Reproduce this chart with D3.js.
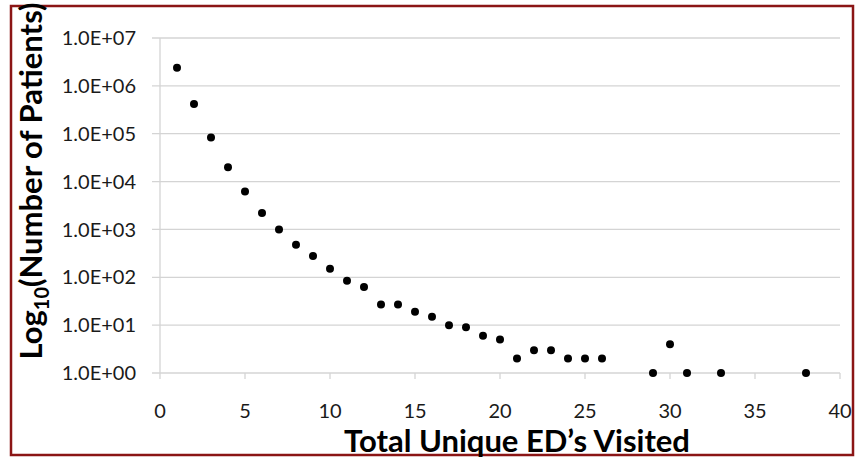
<!DOCTYPE html>
<html><head><meta charset="utf-8">
<script src="https://cdn.jsdelivr.net/npm/d3@7"></script>
<style>html,body{margin:0;padding:0;background:#fff;}</style>
</head><body>
<script>
const edsVisited = [1,2,3,4,5,6,7,8,9,10,11,12,13,14,15,16,17,18,19,20,21,22,23,24,25,26,29,30,31,33,38];
const patients = [2400000,420000,83000,20000,6200,2200,1000,480,280,150,85,63,27,27,19,15,10,9,6,5,2,3,3,2,2,2,1,4,1,1,1];
const yTicks = [1,10,100,1000,10000,100000,1000000,10000000];
const yTickLabels = ["1.0E+00","1.0E+01","1.0E+02","1.0E+03","1.0E+04","1.0E+05","1.0E+06","1.0E+07"];
const xTicks = [0,5,10,15,20,25,30,35,40];

const W=857,H=459;
const svg=d3.select("body").append("svg").attr("width",W).attr("height",H);
svg.append("rect").attr("x",0).attr("y",0).attr("width",W).attr("height",H).attr("fill","#fff");
svg.append("rect").attr("x",11).attr("y",6).attr("width",842).attr("height",449)
  .attr("fill","none").attr("stroke","#8b1515").attr("stroke-width",2.5);

const L=160,R=840,T=38,B=373;
const x=d3.scaleLinear().domain([0,40]).range([L,R]);
const y=d3.scaleLog().domain([1,1e7]).range([B,T]);
const font="Lato, 'Open Sans', sans-serif";

// gridlines
svg.append("g").selectAll("line").data(yTicks).join("line")
  .attr("x1",L-8).attr("x2",R).attr("y1",d=>y(d)).attr("y2",d=>y(d))
  .attr("stroke","#d4d4d4").attr("stroke-width",1.3);
// y axis line
svg.append("line").attr("x1",L).attr("x2",L).attr("y1",T).attr("y2",B).attr("stroke","#d4d4d4").attr("stroke-width",1.3);
// x ticks
svg.append("g").selectAll("line").data(xTicks).join("line")
  .attr("x1",d=>x(d)).attr("x2",d=>x(d)).attr("y1",B).attr("y2",B+6)
  .attr("stroke","#d4d4d4").attr("stroke-width",1.3);

// y tick labels
svg.append("g").selectAll("text").data(yTicks).join("text")
  .attr("x",136).attr("y",d=>y(d)).attr("dy","0.36em").attr("text-anchor","end")
  .attr("font-family",font).attr("font-size",20).attr("fill","#1a1a1a")
  .text((d,i)=>yTickLabels[i]);
// x tick labels
svg.append("g").selectAll("text").data(xTicks).join("text")
  .attr("x",d=>x(d)).attr("y",411).attr("dy","0.36em").attr("text-anchor","middle")
  .attr("font-family",font).attr("font-size",20).attr("fill","#1a1a1a")
  .text(d=>d);

// points
svg.append("g").selectAll("circle").data(edsVisited).join("circle")
  .attr("cx",d=>x(d)).attr("cy",(d,i)=>y(patients[i])).attr("r",4).attr("fill","#000");

// axis titles
svg.append("text").attr("x",517).attr("y",452).attr("text-anchor","middle")
  .attr("font-family",font).attr("font-weight","bold").attr("font-size",31).attr("fill","#000")
  .text("Total Unique ED’s Visited");
const yt=svg.append("text").attr("transform","translate(42,181) rotate(-90)").attr("text-anchor","middle")
  .attr("font-family",font).attr("font-weight","bold").attr("font-size",31).attr("fill","#000");
yt.append("tspan").text("Log");
yt.append("tspan").attr("font-size",20).attr("dy",7).text("10");
yt.append("tspan").attr("dy",-7).text("(Number of Patients)");
</script>
</body></html>
